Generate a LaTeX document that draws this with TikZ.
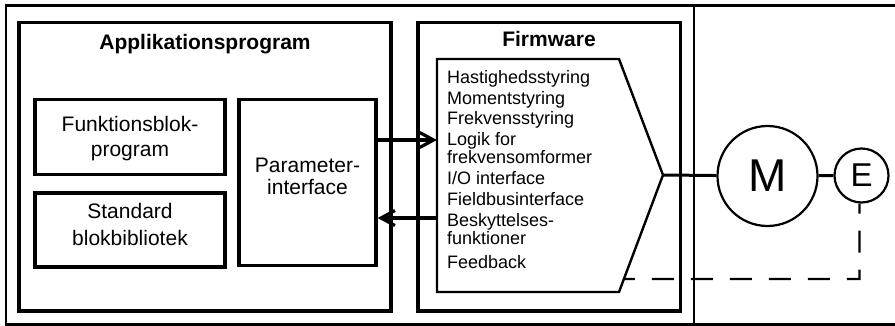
\documentclass[tikz,border=0pt]{standalone}
\usepackage{fontspec}
\setmainfont{Liberation Sans}
\usetikzlibrary{arrows.meta,calc}

\begin{document}
\begin{tikzpicture}[x=1pt,y=-1pt,
  frame/.style={line width=2.2pt},
  block/.style={draw,line width=3.2pt,inner sep=0pt},
  title/.style={font=\fontsize{21}{25}\selectfont\bfseries,inner sep=0pt,anchor=base},
  boxtext/.style={font=\fontsize{21}{#1}\selectfont,align=center,inner sep=0pt},
  item/.style={font=\fontsize{18}{19}\selectfont,inner sep=0pt,anchor=base west},
  wire/.style={line width=3pt},
  arr/.style={line width=3.2pt,-{Straight Barb[length=14pt,width=15pt]}},
  machine/.style={draw,circle,line width=2.2pt,inner sep=0pt},
  dashline/.style={line width=2.2pt,dash pattern=on 22pt off 17pt,dash phase=11pt}]

\clip (0,0) rectangle (895,326);

% outer frame and divider
\draw[frame] (6,5.5) rectangle (905,324.5);
\draw[frame] (694,5.5) -- (694,324.5);

% application program
\node[block,minimum width=372pt,minimum height=288.5pt] (app) at (205,166.75) {};
\node[title] (apptitle) at (205,50) {Applikationsprogram};
\node[block,minimum width=190pt,minimum height=75pt] (fbp) at (130,137.2) {};
\node[boxtext=25] (fbptext) at (130,138.8) {Funktionsblok-\\program};
\node[block,minimum width=190pt,minimum height=74pt] (std) at (130,230) {};
\node[boxtext=26.5] (stdtext) at (130,224.5) {Standard\\blokbibliotek};
\node[block,minimum width=137pt,minimum height=166pt] (par) at (307.5,182.6) {};
\node[boxtext=21.7] (partext) at (307.5,176.5) {Parameter-\\interface};

% firmware
\node[block,minimum width=262.5pt,minimum height=288.5pt] (fw) at (549.25,166.75) {};
\node[title] (fwtitle) at (549,46.5) {Firmware};

\coordinate (ptl) at (437,59);
\coordinate (ptr) at (619,59);
\coordinate (tip) at (663,175);
\coordinate (pbr) at (619,292);
\coordinate (pbl) at (437,292);
\draw[line width=2.4pt,line join=miter] (ptl) -- (ptr) -- (tip) -- (pbr) -- (pbl) -- cycle;

\node[item] (i1) at (447,83.3) {Hastighedsstyring};
\node[item] (i2) at (447,104.3) {Momentstyring};
\node[item] (i3) at (447,125) {Frekvensstyring};
\node[item] (i4) at (447,146) {Logik for};
\node[item] (i5) at (447,163.5) {frekvensomformer};
\node[item] (i6) at (447,185) {I/O interface};
\node[item] (i7) at (447,205.7) {Fieldbusinterface};
\node[item] (i8) at (447,226.7) {Beskyttelses-};
\node[item] (i9) at (447,244.3) {funktioner};
\node[item] (i10) at (447,268.3) {Feedback};

% data exchange between parameter interface and firmware
\coordinate (fin) at (437,140);
\coordinate (fout) at (437,218);
\draw[arr] (par.east |- fin) -- (fin);
\draw[arr] (fout) -- (par.east |- fout);

% motor and encoder
\node[machine,minimum size=100pt,font=\fontsize{46}{46}\selectfont] (M) at (767.5,176) {M};
\node[machine,minimum size=54pt,font=\fontsize{33}{33}\selectfont] (E) at (861.5,175.5) {E};
\draw[wire] (tip) -- (M);
\draw[wire] (M) -- (E);

% encoder feedback
\coordinate (dl) at ($(tip)!0.889!(pbr)$);
\coordinate (dc) at (859.5,279);
\draw[dashline] (dl) -- (dc) -- (dc |- E.south);
\end{tikzpicture}
\end{document}
